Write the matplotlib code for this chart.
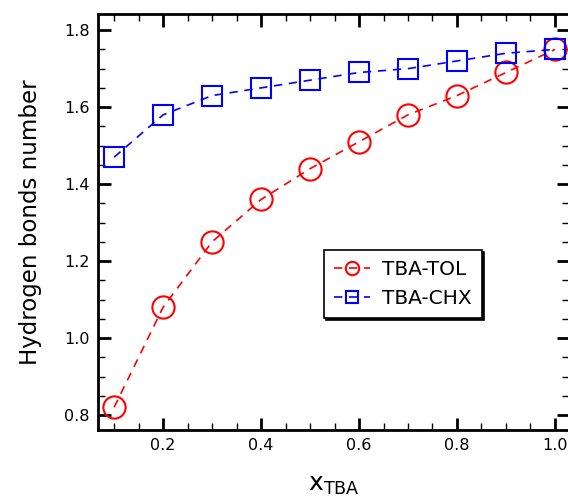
import matplotlib
matplotlib.use('Agg')
import matplotlib.pyplot as plt
from matplotlib.ticker import MultipleLocator

# data
x_tba = [0.1, 0.2, 0.3, 0.4, 0.5, 0.6, 0.7, 0.8, 0.9, 1.0]
hb_tol = [0.82, 1.08, 1.25, 1.36, 1.44, 1.51, 1.58, 1.63, 1.69, 1.75]
hb_chx = [1.47, 1.58, 1.63, 1.65, 1.67, 1.69, 1.70, 1.72, 1.74, 1.75]

plt.rcParams['font.family'] = ['DejaVu Sans']

fig = plt.figure(figsize=(5.68, 5.0), dpi=100)
ax = fig.add_axes([0.1725, 0.14, 0.8295, 0.832])

ax.plot(x_tba, hb_tol, color='red', ls=(0, (5, 4)), lw=1.2,
        marker='o', ms=16, mfc='none', mec='red', mew=1.5, label='TBA-TOL')
ax.plot(x_tba, hb_chx, color='blue', ls=(0, (5, 4)), lw=1.2,
        marker='s', ms=15, mfc='none', mec='blue', mew=1.5, label='TBA-CHX')

ax.set_xlim(0.067, 1.029)
ax.set_ylim(0.761, 1.842)
ax.xaxis.set_major_locator(MultipleLocator(0.2))
ax.xaxis.set_minor_locator(MultipleLocator(0.05))
ax.yaxis.set_major_locator(MultipleLocator(0.2))
ax.yaxis.set_minor_locator(MultipleLocator(0.05))
ax.tick_params(which='both', direction='in', top=True, right=True, labelsize=11.5)
ax.tick_params(which='major', length=9, width=2, pad=6)
ax.tick_params(which='minor', length=5, width=1)
for s in ax.spines.values():
    s.set_linewidth(2)

ax.set_xlabel('x$_{\\mathregular{TBA}}$', fontsize=18, labelpad=14)
ax.set_ylabel('Hydrogen bonds number', fontsize=16.5, labelpad=16)

leg = ax.legend(loc='upper left', bbox_to_anchor=(0.479, 0.433), fontsize=14.5,
                markerscale=0.6, handlelength=1.8, handletextpad=0.6,
                fancybox=False, shadow={'color': 'black', 'alpha': 1, 'ox': 1.5, 'oy': -1.5},
                framealpha=1, edgecolor='black', borderpad=0.5, borderaxespad=0)
leg.get_frame().set_linewidth(1.2)

fig.savefig('out.png', dpi=100)
